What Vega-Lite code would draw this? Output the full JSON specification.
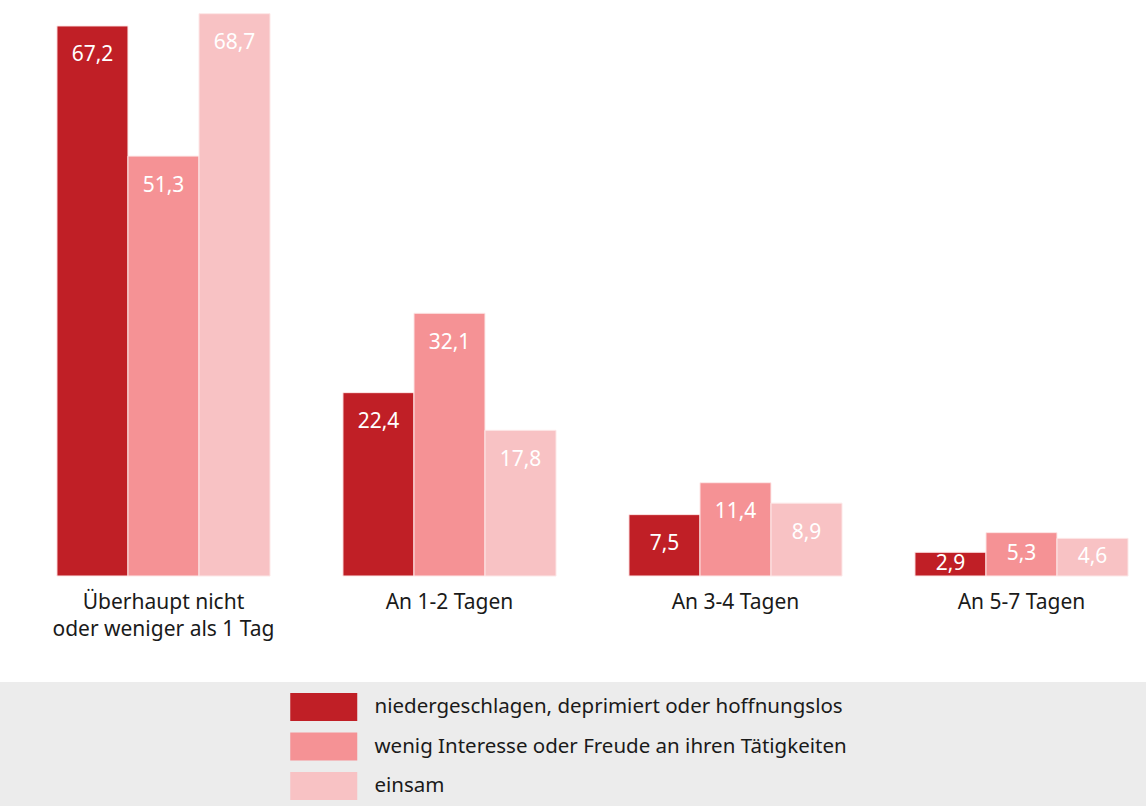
{
  "$schema": "https://vega.github.io/schema/vega-lite/v6.json",
  "width": 1146,
  "height": 682,
  "padding": {"left": 0, "top": 0, "right": 0, "bottom": 124},
  "autosize": {"type": "none"},
  "background": "#ececec",
  "config": {
    "view": {"fill": "white", "stroke": null},
    "font": "Noto Sans",
    "locale": {"number": {"decimal": ",", "thousands": ".", "grouping": [3], "currency": ["", " €"]}}
  },
  "data": {
    "values": [
      {"cat": "Überhaupt nicht|oder weniger als 1 Tag", "series": "niedergeschlagen, deprimiert oder hoffnungslos", "value": 67.2},
      {"cat": "Überhaupt nicht|oder weniger als 1 Tag", "series": "wenig Interesse oder Freude an ihren Tätigkeiten", "value": 51.3},
      {"cat": "Überhaupt nicht|oder weniger als 1 Tag", "series": "einsam", "value": 68.7},
      {"cat": "An 1-2 Tagen", "series": "niedergeschlagen, deprimiert oder hoffnungslos", "value": 22.4},
      {"cat": "An 1-2 Tagen", "series": "wenig Interesse oder Freude an ihren Tätigkeiten", "value": 32.1},
      {"cat": "An 1-2 Tagen", "series": "einsam", "value": 17.8},
      {"cat": "An 3-4 Tagen", "series": "niedergeschlagen, deprimiert oder hoffnungslos", "value": 7.5},
      {"cat": "An 3-4 Tagen", "series": "wenig Interesse oder Freude an ihren Tätigkeiten", "value": 11.4},
      {"cat": "An 3-4 Tagen", "series": "einsam", "value": 8.9},
      {"cat": "An 5-7 Tagen", "series": "niedergeschlagen, deprimiert oder hoffnungslos", "value": 2.9},
      {"cat": "An 5-7 Tagen", "series": "wenig Interesse oder Freude an ihren Tätigkeiten", "value": 5.3},
      {"cat": "An 5-7 Tagen", "series": "einsam", "value": 4.6}
    ]
  },
  "encoding": {
    "x": {
      "field": "cat", "type": "nominal", "sort": null,
      "scale": {"paddingInner": 0.255, "paddingOuter": 0.131, "align": 0.76},
      "axis": {
        "title": null, "domain": false, "ticks": false, "orient": "bottom",
        "offset": -106, "labelAngle": 0, "labelPadding": 15,
        "labelFontSize": 21, "labelColor": "#1a1a1a", "labelFont": "Noto Sans",
        "labelLineHeight": 27, "labelLimit": 400,
        "labelExpr": "split(datum.label, '|')"
      }
    },
    "xOffset": {"field": "series", "type": "nominal", "sort": null, "scale": {"paddingInner": 0, "paddingOuter": 0}},
    "color": {
      "field": "series", "type": "nominal", "sort": null,
      "scale": {
        "domain": ["niedergeschlagen, deprimiert oder hoffnungslos", "wenig Interesse oder Freude an ihren Tätigkeiten", "einsam"],
        "range": ["#c01f26", "#f59295", "#f8c2c4"]
      },
      "legend": {
        "orient": "none", "legendX": 306.75, "legendY": 690,
        "title": null, "padding": 0,
        "symbolType": "M-2,-0.836L2,-0.836L2,0.836L-2,0.836Z",
        "symbolSize": 1122, "symbolStrokeWidth": 0, "symbolOpacity": 1,
        "symbolOffset": 0, "labelOffset": 33.75, "rowPadding": 7.5,
        "labelFontSize": 20.5, "labelFont": "Noto Sans", "labelColor": "#1a1a1a",
        "labelLimit": 800
      }
    }
  },
  "layer": [
    {
      "mark": {"type": "bar", "stroke": "#fde8e8", "strokeWidth": 1},
      "encoding": {
        "y": {"field": "value", "type": "quantitative", "scale": {"domain": [-12.95, 70.37], "zero": false, "nice": false}, "axis": null}
      }
    },
    {
      "transform": [{"calculate": "max(datum.value / 2, datum.value - 3.6)", "as": "labelPos"}],
      "mark": {"type": "text", "fontSize": 21, "baseline": "middle", "font": "Noto Sans"},
      "encoding": {
        "y": {"field": "labelPos", "type": "quantitative", "scale": {"domain": [-12.95, 70.37], "zero": false, "nice": false}, "axis": null},
        "text": {"field": "value", "type": "quantitative", "format": ".1f"},
        "color": {"value": "white"}
      }
    }
  ]
}
